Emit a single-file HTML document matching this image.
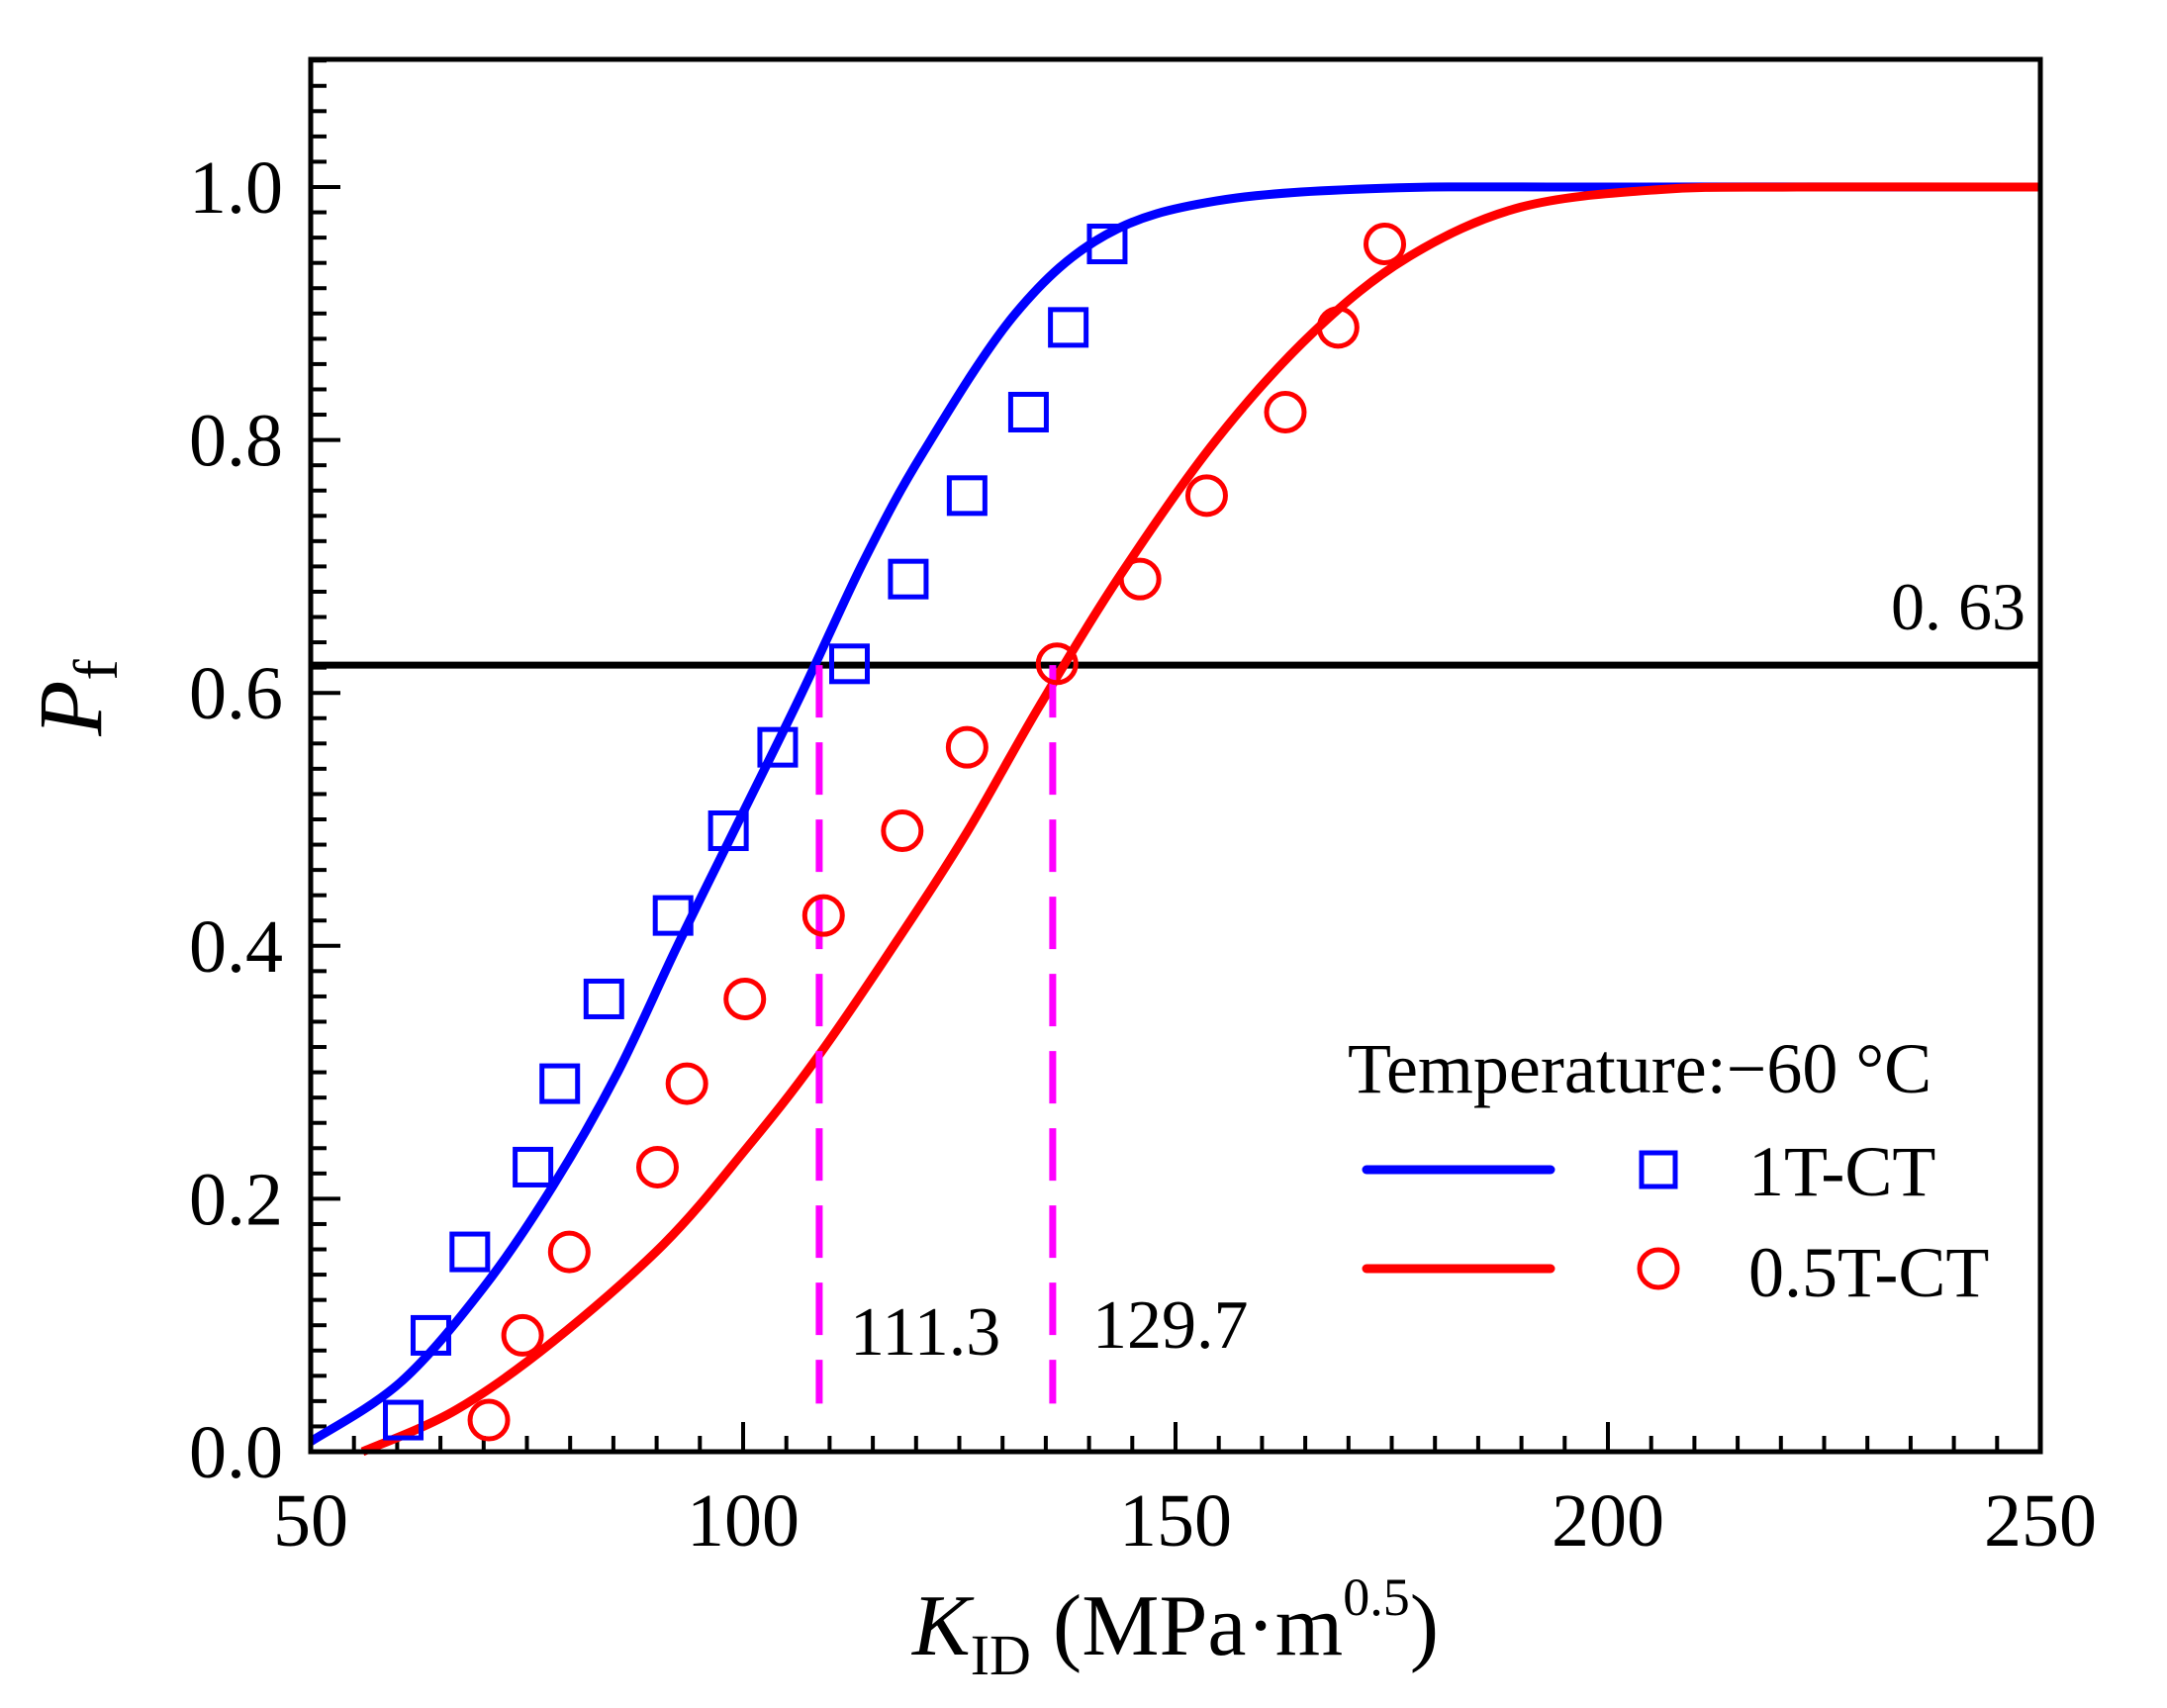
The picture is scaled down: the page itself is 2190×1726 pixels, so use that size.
<!DOCTYPE html>
<html><head><meta charset="utf-8"><style>
html,body{margin:0;padding:0;background:#fff;}
svg{display:block;font-family:"Liberation Serif",serif;}
</style></head><body>
<svg id="chart" width="2190" height="1726" viewBox="0 0 2190 1726" xmlns="http://www.w3.org/2000/svg"></svg>
<script>
const xTicks=[50,100,150,200,250];
const yTicks=[0.0,0.2,0.4,0.6,0.8,1.0];
const yTickLabels=["0.0","0.2","0.4","0.6","0.8","1.0"];
const blueCurveX=[50,60.4,70,78,85.5,92.4,99.6,106.8,114,120.8,131.5,141.9,154.7,174,200,250];
const blueCurveY=[0.008,0.055,0.13,0.21,0.3,0.4,0.5,0.6,0.705,0.79,0.9,0.962,0.989,0.999,1.0,1.0];
const redCurveX=[56,66.8,78,90.8,100.4,108.4,117.9,125.9,134.3,143.8,154.7,165.9,177,189.9,205.9,221.9,250];
const redCurveY=[0,0.033,0.087,0.164,0.24,0.31,0.405,0.49,0.59,0.695,0.8,0.885,0.945,0.984,0.998,1.0,1.0];
const pfValues=[0.025,0.092,0.158,0.225,0.291,0.358,0.424,0.491,0.557,0.623,0.690,0.756,0.822,0.889,0.955];
const blueX=[60.7,63.9,68.4,75.7,78.8,83.9,91.9,98.3,104.0,112.3,119.1,125.9,133.0,137.6,142.1];
const redX=[70.6,74.5,79.9,90.1,93.5,100.2,109.3,118.4,125.9,136.3,145.9,153.6,162.7,168.8,174.2];
const refLevel=0.622;
const refX=[108.8,135.8];
const refLabels=["111.3","129.7"];

const L=314,R=2062,T=60,B=1467,YU=1278;
const sx=v=>L+(v-50)*(R-L)/200;
const sy=v=>B-v*YU;
const svg=document.getElementById('chart');
const NS='http://www.w3.org/2000/svg';
function mk(tag,attrs,parent){const e=document.createElementNS(NS,tag);for(const k in attrs)e.setAttribute(k,attrs[k]);(parent||svg).appendChild(e);return e;}

for(let v=50;v<=250.01;v+=5){
  const major=Math.abs(v%50)<0.01;
  const t=mk('line',{x1:sx(v),x2:sx(v),y1:B,y2:B-(major?30:16),stroke:'#000','stroke-width':4});
  
  
}
for(let i=0;i<=55;i++){
  const v=i*0.02;const major=i%10===0;
  const t=mk('line',{x1:L,x2:L+(major?30:16),y1:sy(v),y2:sy(v),stroke:'#000','stroke-width':4});
  
  
}
xTicks.forEach(v=>{const t=mk('text',{x:sx(v),y:1562,'text-anchor':'middle','font-size':76});t.textContent=v;
  
  });
yTicks.forEach((v,i)=>{const t=mk('text',{x:286,y:sy(v)+26,'text-anchor':'end','font-size':76});t.textContent=yTickLabels[i];
  
  });

const hl=mk('line',{x1:L,x2:R,y1:sy(refLevel),y2:sy(refLevel),stroke:'#000','stroke-width':7});


const hlt=mk('text',{x:2047,y:636,'text-anchor':'end','font-size':68});hlt.textContent='0. 63';



function smooth(pts){
  let d='M'+pts[0][0].toFixed(1)+' '+pts[0][1].toFixed(1);
  for(let i=0;i<pts.length-1;i++){
    const p0=pts[Math.max(0,i-1)],p1=pts[i],p2=pts[i+1],p3=pts[Math.min(pts.length-1,i+2)];
    const c1=[p1[0]+(p2[0]-p0[0])/6,p1[1]+(p2[1]-p0[1])/6];
    const c2=[p2[0]-(p3[0]-p1[0])/6,p2[1]-(p3[1]-p1[1])/6];
    d+=' C'+c1[0].toFixed(1)+' '+c1[1].toFixed(1)+' '+c2[0].toFixed(1)+' '+c2[1].toFixed(1)+' '+p2[0].toFixed(1)+' '+p2[1].toFixed(1);
  }
  return d;
}
function curve(xs,ys,color,name){
  const pts=xs.map((x,i)=>[sx(x),sy(ys[i])]);
  const p=mk('path',{d:smooth(pts),fill:'none',stroke:color,'stroke-width':9,'stroke-linejoin':'round'});
  
  
}
curve(blueCurveX,blueCurveY,'#0000ff','fit-curve-1t-ct');
curve(redCurveX,redCurveY,'#ff0000','fit-curve-05t-ct');

const labPos=[[859,1369],[1104,1362]];
refX.forEach((v,i)=>{
  const l=mk('line',{x1:sx(v),x2:sx(v),y1:sy(refLevel),y2:sy(0.038),stroke:'#ff00ff','stroke-width':7,'stroke-dasharray':'53,25'});
  
  
  const t=mk('text',{x:labPos[i][0],y:labPos[i][1],'font-size':70});t.textContent=refLabels[i];
  
  
});

blueX.forEach((x,i)=>{const r=mk('rect',{x:sx(x)-18,y:sy(pfValues[i])-18,width:36,height:36,fill:'none',stroke:'#0000ff','stroke-width':5});
  
  });
redX.forEach((x,i)=>{const c=mk('circle',{cx:sx(x),cy:sy(pfValues[i]),r:19,fill:'none',stroke:'#ff0000','stroke-width':5});
  
  });

const fr=mk('rect',{x:L,y:T,width:R-L,height:B-T,fill:'none',stroke:'#000','stroke-width':5});



const lg=mk('g',{});


const lt=mk('text',{x:1362,y:1104,'font-size':72},lg);lt.textContent='Temperature:\u221260 \u00B0C';
mk('line',{x1:1381,x2:1567,y1:1182,y2:1182,stroke:'#0000ff','stroke-width':9,'stroke-linecap':'round'},lg);
mk('rect',{x:1659,y:1165,width:34,height:34,fill:'none',stroke:'#0000ff','stroke-width':5},lg);
const l1=mk('text',{x:1767,y:1208,'font-size':72},lg);l1.textContent='1T-CT';
mk('line',{x1:1381,x2:1567,y1:1282,y2:1282,stroke:'#ff0000','stroke-width':9,'stroke-linecap':'round'},lg);
mk('circle',{cx:1676,cy:1282,r:19,fill:'none',stroke:'#ff0000','stroke-width':5},lg);
const l2=mk('text',{x:1767,y:1310,'font-size':72},lg);l2.textContent='0.5T-CT';

const xt=mk('text',{x:1188,y:1672,'text-anchor':'middle','font-size':88});


xt.innerHTML='<tspan font-style="italic">K</tspan><tspan font-size="58" dy="20">ID</tspan><tspan dy="-20"> (MPa\u00B7m</tspan><tspan font-size="54" dy="-40">0.5</tspan><tspan dy="40">)</tspan>';
const yt=mk('text',{x:0,y:0,'text-anchor':'middle','font-size':92,transform:'translate(102,705) rotate(-90)'});


yt.innerHTML='<tspan font-style="italic">P</tspan><tspan font-size="64" dy="16">f</tspan>';
</script>
</body></html>
